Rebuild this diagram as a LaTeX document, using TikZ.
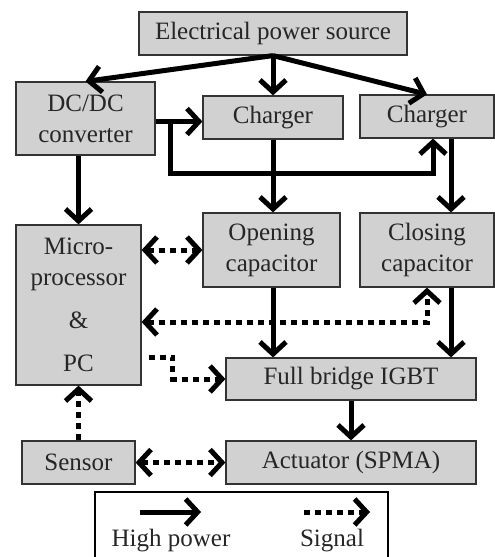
\documentclass[tikz,border=0pt]{standalone}
\usepackage{fontspec}
\setmainfont{Liberation Serif}
\usetikzlibrary{arrows.meta}
\begin{document}
\begin{tikzpicture}[x=1pt,y=-1pt,
  box/.style={draw=black!80,line width=1.2pt,fill=black!18,inner sep=0pt,align=center,
    text=black!85,font=\fontsize{25}{31}\selectfont},
  hp/.style={line width=5pt,-{Straight Barb[length=12pt,width=26pt]}},
  sig/.style={line width=5pt,dash pattern=on 6pt off 5pt,-{Straight Barb[length=12pt,width=26pt]}},
  sigb/.style={line width=5pt,dash pattern=on 6pt off 5pt,{Straight Barb[length=12pt,width=26pt]}-{Straight Barb[length=12pt,width=26pt]}},
  lbl/.style={font=\fontsize{25}{31}\selectfont,text=black!85,inner sep=0pt}]
\useasboundingbox (0,0) rectangle (495,557);
% boxes
\node[box,minimum width=268pt,minimum height=43pt] (src) at (273,33.5) {Electrical power source};
\node[box,minimum width=139pt,minimum height=73pt] (dcdc) at (85.5,118.5) {DC/DC\\converter};
\node[box,minimum width=140pt,minimum height=43pt] (ch1) at (273,117.5) {Charger};
\node[box,minimum width=134pt,minimum height=43pt] (ch2) at (427,116.5) {Charger};
\node[box,minimum width=125pt,minimum height=160pt] (micro) at (78.5,305) {Micro-\\processor\\[12pt]\&\\[12pt]PC};
\node[box,minimum width=137pt,minimum height=74pt] (open) at (271.5,250) {Opening\\capacitor};
\node[box,minimum width=134pt,minimum height=74pt] (close) at (427,250) {Closing\\capacitor};
\node[box,minimum width=250pt,minimum height=42pt] (igbt) at (351,379) {Full bridge IGBT};
\node[box,minimum width=113pt,minimum height=43pt] (sensor) at (78.5,462.5) {Sensor};
\node[box,minimum width=250pt,minimum height=43pt] (act) at (351,462.5) {Actuator (SPMA)};
% high power
\draw[hp] (src.south) -- (dcdc.north);
\draw[hp] (src.south) -- (ch1.north);
\draw[hp] (src.south) -- (ch2.north);
\draw[hp] ([yshift=-3pt]dcdc.east) -- ([yshift=-4pt]ch1.west);
\coordinate (j1) at ([xshift=15pt,yshift=-3pt]dcdc.east);
\draw[hp] (j1) -- ++(0,52) -| ([xshift=6pt]ch2.south);
\draw[hp] (dcdc.south -| micro.north) -- (micro.north);
\draw[hp] (ch1.south) -- (ch1.south |- open.north);
\draw[hp] ([xshift=24pt]ch2.south) -- ([xshift=24pt]ch2.south |- close.north);
\draw[hp] ([xshift=1.5pt]open.south) -- ([xshift=1.5pt]open.south |- igbt.north);
\draw[hp] ([xshift=24pt]close.south) -- ([xshift=24pt]close.south |- igbt.north);
\draw[hp] (igbt.south) -- (act.north);
% signals
\draw[sigb] (micro.east |- open.west) -- (open.west);
\draw[sigb] ([yshift=-17pt]micro.east) -| (close.south);
\draw[sig] ([xshift=7pt,yshift=-52pt]micro.east) -- ++(24,0) |- (igbt.west);
\draw[sig] (sensor.north) -- (micro.south);
\draw[sigb] (sensor.east) -- (act.west);
% legend
\draw[line width=2pt] (95,560) -- (95,492) -- (388,492) -- (388,560);
\coordinate (l1a) at (140,512);
\coordinate (l1b) at (201,512);
\coordinate (l2a) at (304,512);
\coordinate (l2b) at (370,512);
\draw[hp] (l1a) -- (l1b);
\draw[sig] (l2a) -- (l2b);
\node[lbl] (lhp) at (171,541) {High power};
\node[lbl] (lsig) at (332,541) {Signal};
\end{tikzpicture}
\end{document}
